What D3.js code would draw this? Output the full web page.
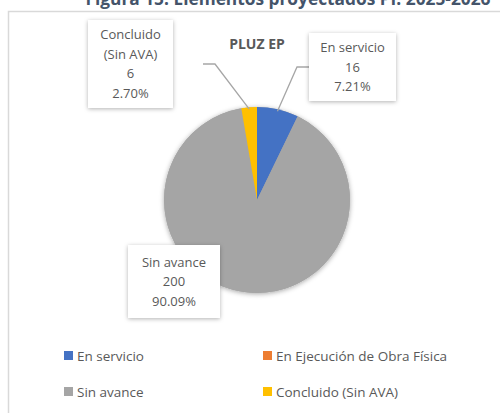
<!DOCTYPE html>
<html>
<head>
<meta charset="utf-8">
<script src="https://cdn.jsdelivr.net/npm/d3@7"></script>
<style>
  body { margin: 0; background: #fff; }
  svg { display: block; font-family: 'Open Sans', sans-serif; }
  .lbl { fill: #595959; font-size: 13px; text-anchor: middle; }
  .leg { fill: #595959; font-size: 13.5px; }
</style>
</head>
<body>
<svg width="500" height="413"></svg>
<script>
// data
const categories = ['En servicio', 'En Ejecución de Obra Física', 'Sin avance', 'Concluido (Sin AVA)']
const values = [16, 0, 200, 6]
const colors = ['#4472c4', '#ed7d31', '#a5a5a5', '#ffc000']
const labelLines = [['En servicio'], [], ['Sin avance'], ['Concluido', '(Sin AVA)']]

const total = d3.sum(values)
const data = categories.map((c, i) => ({ name: c, value: values[i], color: colors[i], lines: labelLines[i] }))

const svg = d3.select('svg')

// shadows
const defs = svg.append('defs')
const sh = defs.append('filter').attr('id', 'shadow').attr('x', '-20%').attr('y', '-20%').attr('width', '140%').attr('height', '140%')
sh.append('feDropShadow').attr('dx', 0).attr('dy', 1).attr('stdDeviation', 2.5).attr('flood-color', '#000').attr('flood-opacity', 0.35)
const sh2 = defs.append('filter').attr('id', 'boxshadow').attr('x', '-20%').attr('y', '-20%').attr('width', '140%').attr('height', '140%')
sh2.append('feDropShadow').attr('dx', 0).attr('dy', 1).attr('stdDeviation', 2).attr('flood-color', '#000').attr('flood-opacity', 0.3)

// figure title, clipped at the top like in the source
svg.append('text')
  .attr('x', 288).attr('y', 5)
  .attr('text-anchor', 'middle')
  .attr('textLength', 405).attr('lengthAdjust', 'spacingAndGlyphs')
  .style('font-size', '17px').style('font-weight', 'bold').style('fill', '#44546a')
  .text('Figura 15. Elementos proyectados PI: 2025-2026')

// chart frame
svg.append('rect')
  .attr('x', 8.5).attr('y', 11.5)
  .attr('width', 520).attr('height', 420)
  .attr('fill', '#fff').attr('stroke', '#d9d9d9').attr('stroke-width', 1.5)

// chart title
svg.append('text')
  .attr('x', 257).attr('y', 49)
  .attr('text-anchor', 'middle')
  .style('font-size', '14px').style('font-weight', 'bold').style('fill', '#595959')
  .text('PLUZ EP')

// pie
const cx = 257, cy = 200, r = 93
const pie = d3.pie().sort(null).value(d => d.value)
const arc = d3.arc().innerRadius(0).outerRadius(r)
const arcs = pie(data)

const g = svg.append('g').attr('transform', `translate(${cx},${cy})`)
g.append('circle').attr('r', r).attr('fill', '#a5a5a5').attr('filter', 'url(#shadow)')
g.selectAll('path.slice')
  .data(arcs.filter(d => d.data.value > 0))
  .enter()
  .append('path')
  .attr('class', 'slice')
  .attr('d', arc)
  .attr('fill', d => d.data.color)

// data labels: boxes positioned per slice
const boxes = [
  { i: 0, x: 309, y: 33, w: 87, h: 68, leader: [[309, 67], [297, 67]] },
  { i: 2, x: 128, y: 245, w: 92, h: 73, leader: null },
  { i: 3, x: 88, y: 20, w: 85, h: 88, leader: [[203, 64], [215, 64]] }
]
const pct = d3.format('.2%')
const edge = d3.arc().innerRadius(r * 0.98).outerRadius(r * 0.98)

boxes.forEach(b => {
  const a = arcs[b.i]
  if (b.leader) {
    const p = edge.centroid(a)
    const pts = b.leader.concat([[cx + p[0], cy + p[1]]])
    svg.append('path')
      .attr('d', d3.line()(pts))
      .attr('fill', 'none').attr('stroke', '#a6a6a6').attr('stroke-width', 1.3)
  }
  svg.append('rect')
    .attr('x', b.x).attr('y', b.y).attr('width', b.w).attr('height', b.h)
    .attr('fill', '#fff').attr('filter', 'url(#boxshadow)')
  const lines = a.data.lines.concat([String(a.data.value), pct(a.data.value / total)])
  const lh = 19.5
  const y0 = b.y + b.h / 2 - (lines.length - 1) * lh / 2 + 4.5
  lines.forEach((t, k) => {
    svg.append('text').attr('class', 'lbl')
      .attr('x', b.x + b.w / 2).attr('y', y0 + k * lh)
      .text(t)
  })
})

// legend
const legX = d3.scaleOrdinal().domain([0, 1]).range([64, 263])
const legY = d3.scaleOrdinal().domain([0, 1]).range([351, 387])
const leg = svg.selectAll('g.leg')
  .data(data)
  .enter()
  .append('g')
  .attr('transform', (d, i) => `translate(${legX(i % 2)},${legY(Math.floor(i / 2))})`)
leg.append('rect').attr('width', 9).attr('height', 9).attr('fill', d => d.color)
leg.append('text').attr('class', 'leg').attr('x', 13).attr('y', 9.5).text(d => d.name)
</script>
</body>
</html>
